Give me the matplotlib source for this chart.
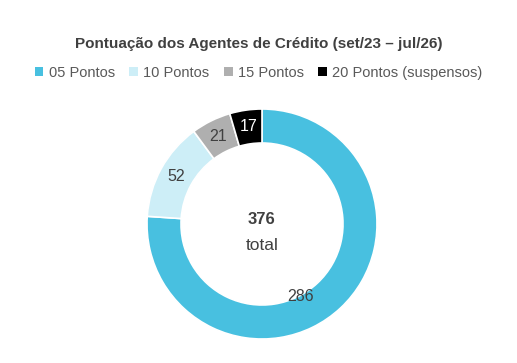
import numpy as np
import matplotlib.pyplot as plt
from matplotlib.patches import Patch

plt.rcParams['font.family'] = ['Liberation Sans', 'DejaVu Sans']

# dados
categorias = ['05 Pontos', '10 Pontos', '15 Pontos', '20 Pontos (suspensos)']
valores = [286, 52, 21, 17]
cores = ['#48C0E0', '#CDEEF7', '#AFAFAF', '#000000']
cor_rotulo = ['#404040', '#404040', '#404040', '#FFFFFF']
total = sum(valores)

W, H = 517, 363
fig = plt.figure(figsize=(W / 100, H / 100), dpi=100)
ax = fig.add_axes([0, 0, 1, 1])

cx, cy = 262, H - 224
r_ext, largura = 115, 34

wedges, _ = ax.pie(valores, colors=cores, startangle=90, counterclock=False,
                   radius=r_ext, center=(cx, cy), frame=True,
                   wedgeprops=dict(width=largura, edgecolor='white', linewidth=1.2))
ax.set_xlim(0, W)
ax.set_ylim(0, H)
ax.set_aspect('equal')
ax.axis('off')

# rótulos no meio do anel (o de 286 foi deslocado no original)
ajuste = {0: (-28, -1)}
r_lab = r_ext - largura / 2
for i, w in enumerate(wedges):
    ang = np.deg2rad((w.theta1 + w.theta2) / 2)
    x = cx + r_lab * np.cos(ang)
    y = cy + r_lab * np.sin(ang)
    dx, dy = ajuste.get(i, (0, 0))
    ax.text(x + dx, y + dy, str(valores[i]), ha='center', va='center',
            fontsize=11.5, color=cor_rotulo[i])

ax.text(cx, cy + 5, str(total), ha='center', va='center', fontsize=12,
        fontweight='bold', color='#404040')
ax.text(cx, cy - 21, 'total', ha='center', va='center', fontsize=12.5,
        color='#404040')

fig.text(0.5, 1 - 44 / H, 'Pontuação dos Agentes de Crédito (set/23 – jul/26)',
         ha='center', va='center', fontsize=11, fontweight='bold', color='#404040')

handles = [Patch(facecolor=c, edgecolor='none') for c in cores]
fig.legend(handles, categorias, loc='center', bbox_to_anchor=(0.5, 1 - 73 / H),
           ncol=4, frameon=False, fontsize=10.5, handlelength=0.6, handleheight=0.6,
           handletextpad=0.35, columnspacing=1.0, labelcolor='#595959')

fig.savefig('out.png', dpi=100, facecolor='white')
